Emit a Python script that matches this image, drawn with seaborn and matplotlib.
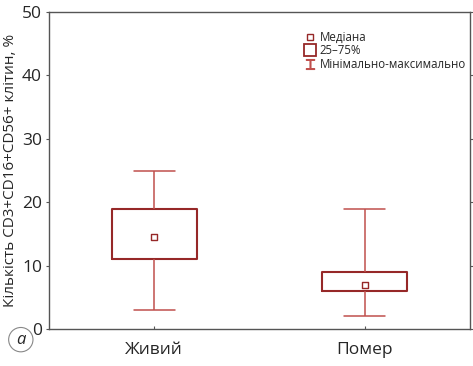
import pandas as pd
import numpy as np
import matplotlib.pyplot as plt
import seaborn as sns
from matplotlib.lines import Line2D

groups = ['Живий', 'Помер']
# min, Q1, median, Q3, max
alive = [3, 11, 14.5, 19, 25]
dead = [2, 6, 7, 9, 19]
yticks = [0, 10, 20, 30, 40, 50]

box_col = '#962828'
wh_col = '#c0504d'

df = pd.DataFrame({
    'group': [groups[0]] * len(alive) + [groups[1]] * len(dead),
    'value': alive + dead,
})
med = pd.DataFrame({'group': groups, 'value': [alive[2], dead[2]]})

sns.set_style('white')
plt.rcParams['font.family'] = ['Open Sans', 'DejaVu Sans']

fig = plt.figure(figsize=(4.73, 3.66), dpi=100)
ax = fig.add_axes([49 / 473, 37 / 366, 421 / 473, 317 / 366])

sns.boxplot(data=df, x='group', y='value', whis=(0, 100), width=0.404,
            fill=False, color=box_col, ax=ax,
            boxprops=dict(color=box_col, linewidth=1.5),
            whiskerprops=dict(color=wh_col, linewidth=1.1),
            capprops=dict(color=wh_col, linewidth=1.1),
            medianprops=dict(visible=False),
            showfliers=False)
for ln in ax.lines:
    xd = np.asarray(ln.get_xdata(), dtype=float)
    if len(xd) == 2 and xd[0] != xd[1]:
        # shorter caps, as in the reference
        c = xd.mean()
        ln.set_xdata([c - 0.097, c + 0.097])
sns.scatterplot(data=med, x='group', y='value', marker='s', s=14,
                color='white', edgecolor=box_col, linewidth=1.0, ax=ax, zorder=5)

ax.set_ylim(0, 50)
ax.set_xlim(-0.5, 1.5)
ax.set_yticks(yticks)
ax.set_yticklabels([str(t) for t in yticks], fontsize=12.5)
ax.set_xticks([0, 1])
ax.set_xticklabels(groups, fontsize=12.5)
ax.set_xlabel('')
ax.set_ylabel('Кількість CD3+CD16+CD56+ клітин, %', fontsize=11, labelpad=3)
ax.tick_params(axis='y', direction='out', length=2, color='#555555', left=True, right=True, pad=3)
ax.tick_params(axis='x', direction='in', length=2, color='#555555', bottom=True, pad=9)
for s in ax.spines.values():
    s.set_color('#555555')
    s.set_linewidth(1.0)

handles = [
    Line2D([], [], marker='s', linestyle='none', markersize=4,
           markerfacecolor='white', markeredgecolor=box_col, markeredgewidth=1.0),
    Line2D([], [], marker='s', linestyle='none', markersize=8,
           markerfacecolor='white', markeredgecolor=box_col, markeredgewidth=1.3),
    Line2D([], [], marker='$\u2336$', linestyle='none', markersize=7,
           color=wh_col),
]
ax.legend(handles, ['Медіана', '25–75%', 'Мінімально-максимально'],
          loc='upper left', bbox_to_anchor=(0.596, 0.955), frameon=False,
          fontsize=8.3, handletextpad=0.3, labelspacing=0.05, handlelength=1.0,
          borderaxespad=0)

fig.text(0.044, 0.072, 'a', fontsize=12, style='italic', ha='center', va='center',
         bbox=dict(boxstyle='circle,pad=0.25', fc='white', ec='#888888', lw=0.8))

fig.savefig('out.png', dpi=100)
